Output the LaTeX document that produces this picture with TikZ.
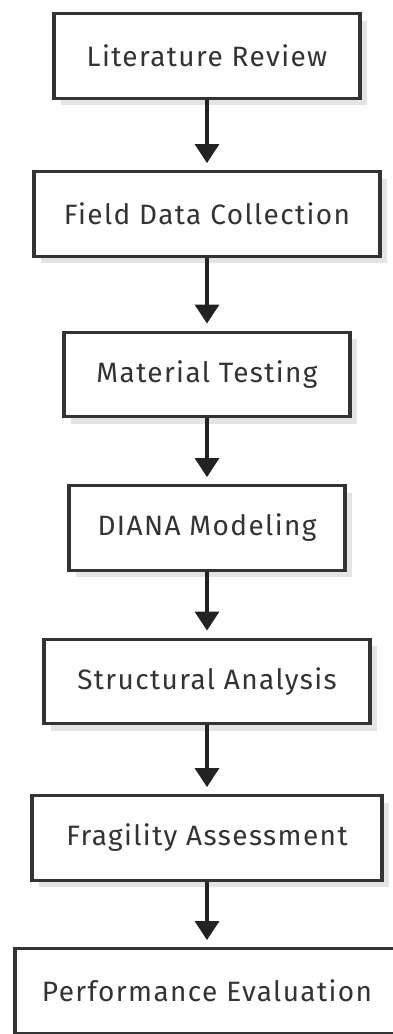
\documentclass[tikz,border=0pt]{standalone}
\usepackage{fontspec}
\setmainfont[LetterSpace=5]{Fira Sans}
\usetikzlibrary{arrows.meta,shadows}
\definecolor{boxc}{HTML}{333333}
\definecolor{textc}{HTML}{333333}
\definecolor{arrc}{HTML}{222222}
\definecolor{shadowc}{HTML}{E4E4E4}
\begin{document}
\begin{tikzpicture}[x=1pt,y=-1pt,
  box/.style={draw=boxc, line width=3.4pt, fill=white, minimum height=84.5pt,
    inner sep=0pt, font=\fontsize{28}{33}\selectfont, text=textc,
    drop shadow={shadow xshift=7pt, shadow yshift=-7pt, fill=shadowc, opacity=1}},
  arr/.style={draw=arrc, line width=3.4pt, -{Triangle[width=24pt,length=19pt]}, shorten >=7pt}]
\fill[white] (0,0) rectangle (393,1034);
\useasboundingbox (0,0) rectangle (393,1034);
\node[box, minimum width=306pt] (n1) at (207,56) {Literature Review};
\node[box, minimum width=346pt] (n2) at (207,214) {Field Data Collection};
\node[box, minimum width=286pt] (n3) at (207,374.5) {Material Testing};
\node[box, minimum width=276pt] (n4) at (207,528) {DIANA Modeling};
\node[box, minimum width=326pt] (n5) at (207,681.5) {Structural Analysis};
\node[box, minimum width=350pt] (n6) at (207,838) {Fragility Assessment};
\node[box, minimum width=384pt] (n7) at (207,991) {Performance Evaluation};
\draw[arr] (n1) -- (n2);
\draw[arr] (n2) -- (n3);
\draw[arr] (n3) -- (n4);
\draw[arr] (n4) -- (n5);
\draw[arr] (n5) -- (n6);
\draw[arr] (n6) -- (n7);
\end{tikzpicture}
\end{document}
